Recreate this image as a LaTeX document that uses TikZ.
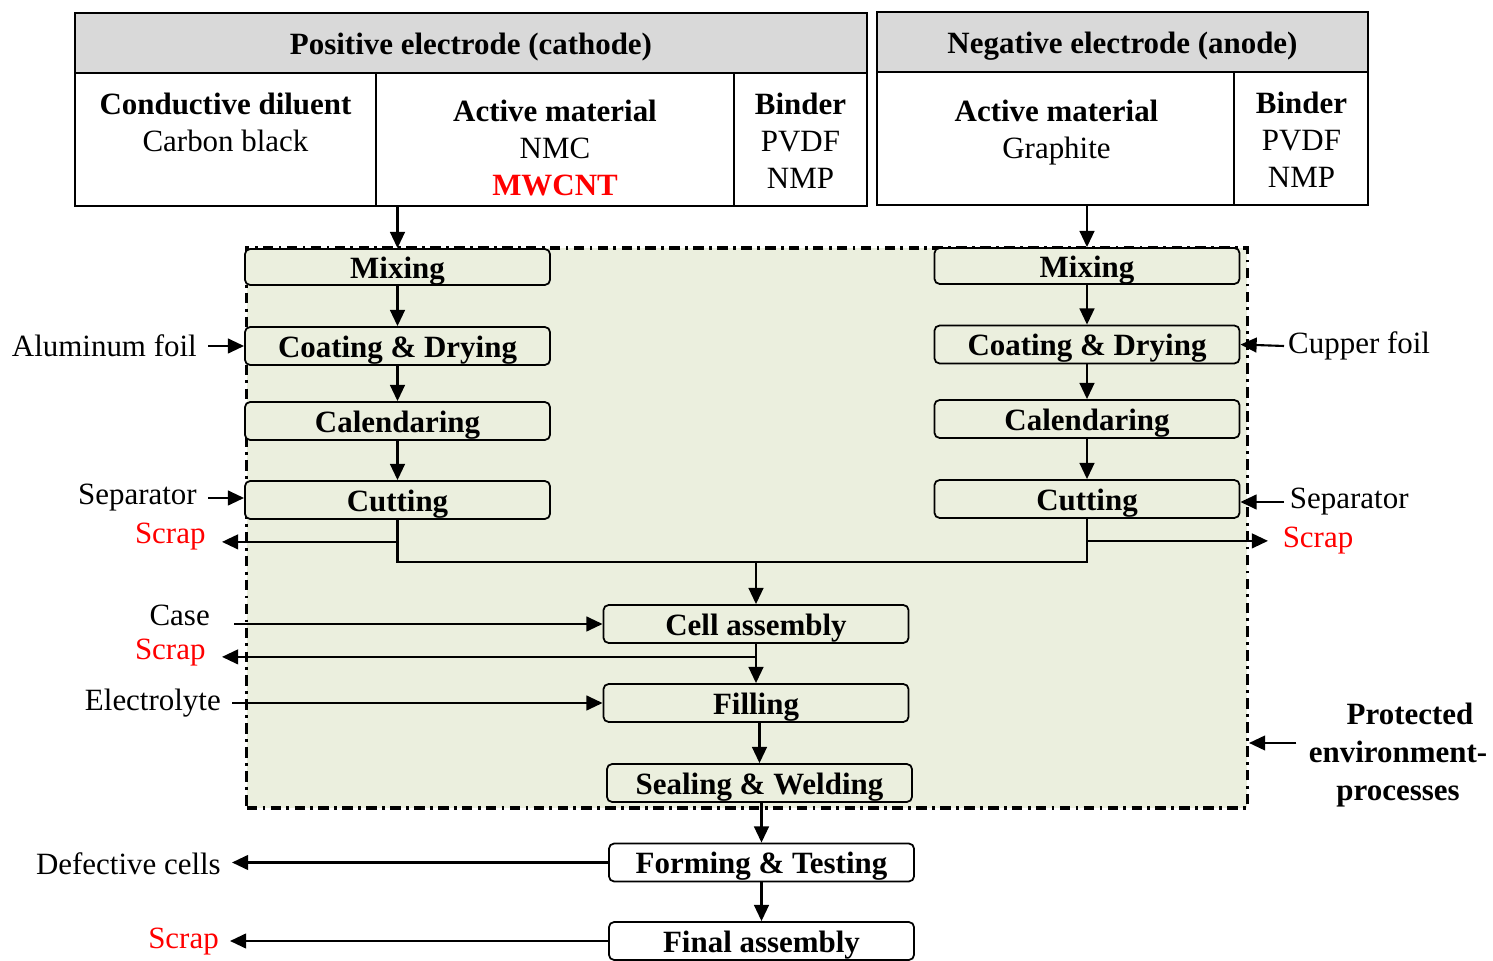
\documentclass[tikz,border=0pt]{standalone}
\usepackage{fontspec}
\setmainfont{Liberation Serif}
\usetikzlibrary{arrows.meta}
\definecolor{envgreen}{RGB}{235,239,222}
\definecolor{headgray}{RGB}{217,217,217}
\begin{document}
\begin{tikzpicture}[x=0.01cm,y=-0.01cm,
    font=\fontsize{8.8}{10.5}\selectfont,
    cell/.style={draw,line width=0.7pt,inner sep=0pt,minimum height=1.33cm},
    head/.style={cell,fill=headgray,minimum height=0.6cm,text height=6.3pt,text depth=0pt,
        font=\fontsize{8.8}{10.5}\selectfont\bfseries},
    proc/.style={draw,line width=0.5pt,rounded corners=1.5pt,fill=envgreen,inner sep=0pt,
        minimum width=3.05cm,minimum height=0.38cm,text height=6.3pt,text depth=0pt,
        font=\fontsize{8.8}{10.5}\selectfont\bfseries},
    txt/.style={align=center,inner sep=0pt,anchor=north},
    lbl/.style={inner xsep=3pt,inner ysep=1pt},
    conn/.style={line width=0.6pt},
    arr/.style={conn,-{Triangle[length=4.6pt,width=4.2pt]}}]
\useasboundingbox (0,0) rectangle (1493,961);

\node[draw,line width=1pt,dash pattern=on 3pt off 1.5pt on 0.8pt off 1.5pt,fill=envgreen,
    inner sep=0pt,minimum width=10cm,minimum height=5.6cm] (env) at (747,528) {};

\node[head,minimum width=7.92cm] (poshead) at (471,43) {Positive electrode (cathode)};
\node[cell,minimum width=3.01cm] (dil) at (225.5,139.5) {};
\node[cell,minimum width=3.58cm] (actc) at (555,139.5) {};
\node[cell,minimum width=1.33cm] (bindc) at (800.5,139.5) {};
\node[head,minimum width=4.91cm] (neghead) at (1122.5,42) {Negative electrode (anode)};
\node[cell,minimum width=3.57cm] (acta) at (1055.5,138.5) {};
\node[cell,minimum width=1.34cm] (binda) at (1301,138.5) {};

\node[txt] (dilt) at (225.5,92) {\textbf{Conductive diluent}\\Carbon black};
\node[txt] (actct) at (555,99) {\textbf{Active material}\\NMC\\\textcolor{red}{\textbf{MWCNT}}};
\node[txt] (bindct) at (800.5,92) {\textbf{Binder}\\PVDF\\NMP};
\node[txt] (actat) at (1056.5,99) {\textbf{Active material}\\Graphite};
\node[txt] (bindat) at (1301.5,91) {\textbf{Binder}\\PVDF\\NMP};

\node[proc,minimum height=0.36cm] (mixL) at (397.5,267) {Mixing};
\node[proc] (coatL) at (397.5,346) {Coating \& Drying};
\node[proc] (calL) at (397.5,421) {Calendaring};
\node[proc] (cutL) at (397.5,500) {Cutting};
\node[proc,minimum height=0.36cm] (mixR) at (1087,266) {Mixing};
\node[proc] (coatR) at (1087,344.5) {Coating \& Drying};
\node[proc] (calR) at (1087,419) {Calendaring};
\node[proc] (cutR) at (1087,499) {Cutting};
\node[proc] (cell) at (756,624) {Cell assembly};
\node[proc] (fill) at (756,703) {Filling};
\node[proc] (seal) at (759.5,783) {Sealing \& Welding};
\node[proc,fill=white] (form) at (761.5,862.5) {Forming \& Testing};
\node[proc,fill=white] (final) at (761.5,941) {Final assembly};

\node[lbl,anchor=east] (alu) at (208,346) {Aluminum foil};
\node[lbl,anchor=west,inner xsep=1pt] (cup) at (1284,346) {Cupper foil};
\node[lbl,anchor=east] (sepL) at (208,498) {Separator};
\node[lbl,anchor=west,inner xsep=1.5pt] (sepR) at (1284,502) {Separator};
\node[lbl,anchor=east,inner xsep=4.5pt,text=red] (scrapA) at (222,537) {Scrap};
\node[lbl,anchor=west,inner xsep=4pt,text=red] (scrapB) at (1268,541) {Scrap};
\node[lbl,anchor=east] (case) at (221,615) {Case};
\node[lbl,anchor=east,inner xsep=4.5pt,text=red] (scrapC) at (222,653) {Scrap};
\node[lbl,anchor=east] (elec) at (232,703) {Electrolyte};
\node[lbl,anchor=east] (defect) at (232,864) {Defective cells};
\node[lbl,anchor=east,text=red] (scrapD) at (230,942) {Scrap};
\node[align=center,font=\fontsize{8.8}{10.7}\selectfont\bfseries] (prot) at (1398,755)
    {\hspace*{0.24cm}Protected\\environment-\\processes};

\draw[arr] (mixL.north |- actc.south) -- (mixL.north);
\draw[arr] (mixR.north |- acta.south) -- (mixR.north);
\draw[arr] (mixL) -- (coatL);
\draw[arr] (coatL) -- (calL);
\draw[arr] (calL) -- (cutL);
\draw[arr] (mixR) -- (coatR);
\draw[arr] (coatR) -- (calR);
\draw[arr] (calR) -- (cutR);

\draw[arr] (alu.east) -- (coatL.west);
\draw[arr] (cup.west) -- (coatR.east);
\draw[arr] (sepL.east) -- (sepL.east -| cutL.west);
\draw[arr] (sepR.west) -- (sepR.west -| cutR.east);

\coordinate (join) at (756,562);
\draw[conn] (cutL.south) |- (join);
\draw[conn] (cutR.south) |- (join);
\draw[arr] (join) -- (cell.north);
\draw[arr] ([yshift=-0.22cm]cutL.south) -- ([yshift=-0.22cm]cutL.south -| scrapA.east);
\draw[arr] ([yshift=-0.22cm]cutR.south) -- ([yshift=-0.22cm]cutR.south -| scrapB.west);

\draw[arr] ([xshift=0.13cm]case.east |- cell.west) -- (cell.west);
\draw[arr] ([yshift=-0.13cm]cell.south) -- ([yshift=-0.13cm]cell.south -| scrapC.east);
\draw[arr] (cell) -- (fill);
\draw[arr] (elec.east) -- (fill.west);
\draw[arr] (seal.north |- fill.south) -- (seal.north);
\draw[arr] (form.north |- seal.south) -- (form.north);
\draw[arr] (form.west) -- (form.west -| defect.east);
\draw[arr] (form) -- (final);
\draw[arr] (final.west) -- (final.west -| scrapD.east);
\draw[arr] ([yshift=0.12cm]prot.west) -- ([yshift=0.12cm]prot.west -| env.east);
\end{tikzpicture}
\end{document}
